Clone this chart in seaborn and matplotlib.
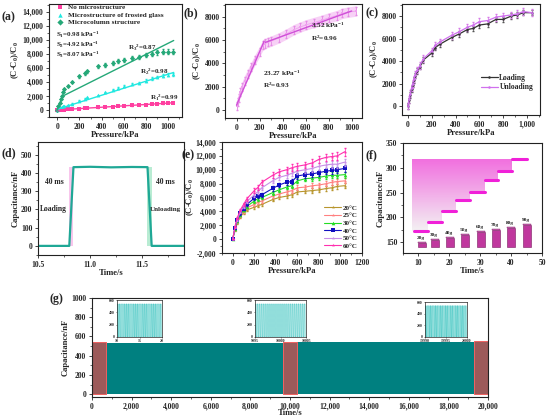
import numpy as np
import matplotlib
matplotlib.use("Agg")
import matplotlib.pyplot as plt
from matplotlib.ticker import FuncFormatter, AutoMinorLocator
import seaborn as sns

# (a) three surface structures
a_x = [0, 10, 20, 30, 40, 50, 60, 100, 130, 200, 250, 270, 370, 430, 500, 550, 600, 670, 740, 800, 850, 900, 950, 1000, 1040]
a_none = [0, 10, 20, 30, 40, 50, 60, 100, 130, 200, 240, 270, 360, 420, 490, 540, 590, 650, 720, 780, 830, 880, 930, 980, 1010]
a_frosted = [0, 150, 250, 350, 450, 500, 550, 700, 900, 1300, 1600, 1800, 2100, 2500, 2900, 3100, 3400, 3700, 3900, 4200, 4500, 4700, 4900, 5000, 5100]
a_column = [0, 500, 1000, 1600, 2000, 2600, 3000, 3400, 4000, 4800, 5200, 5500, 6200, 6400, 6700, 7000, 7100, 7400, 7600, 7800, 8000, 8200, 8300, 8300, 8300]
a_labels = ["No microstructure", "Microstructure of frosted glass", "Microcolumn structure"]
a_fit_x = [0, 1050]
a_fit_none = [0, 1030]
a_fit_frosted = [100, 5350]
a_fit_col_low_x = [0, 45]
a_fit_col_low = [0, 1950]
a_fit_col_x = [45, 1050]
a_fit_col = [1950, 9900]
a_slopes = ["S$_1$=0.98 kPa$^{-1}$", "S$_2$=4.92 kPa$^{-1}$", "S$_3$=8.07 kPa$^{-1}$"]
a_r2 = ["R$_1$$^2$=0.99", "R$_2$$^2$=0.98", "R$_3$$^2$=0.87"]

# (b) two-stage fit
b_x = [0, 10, 20, 30, 50, 70, 100, 130, 160, 200, 230, 250, 270, 300, 370, 430, 500, 550, 600, 670, 740, 800, 870, 920, 970, 1040]
b_y = [300, 700, 1000, 1500, 2000, 2500, 3100, 3700, 4300, 5000, 5600, 5700, 5800, 5900, 6200, 6500, 6900, 7100, 7300, 7500, 7700, 7900, 8100, 8300, 8400, 8500]
b_fit1_x = [0, 240]
b_fit1_y = [400, 5900]
b_fit2_x = [250, 1000]
b_fit2_y = [5800, 8500]

# (c) loading / unloading
c_x = [0, 10, 20, 30, 40, 50, 60, 80, 100, 130, 200, 230, 270, 370, 430, 500, 550, 600, 670, 740, 800, 870, 920, 970, 1040]
c_load = [0, 500, 1000, 1500, 1900, 2300, 2700, 3100, 3500, 4100, 4700, 5200, 5500, 6100, 6400, 6800, 6900, 7200, 7300, 7700, 7700, 8000, 8100, 8300, 8300]
c_unload = [0, 600, 1100, 1600, 2000, 2400, 2800, 3200, 3600, 4200, 4900, 5400, 5700, 6300, 6600, 7000, 7200, 7500, 7600, 7900, 8000, 8100, 8200, 8400, 8300]

# (d) response time
d_t = [10.5, 10.80, 10.84, 11.0, 11.2, 11.4, 11.55, 11.59, 11.9]
d_c = [0, 0, 432, 434, 431, 433, 432, 0, 0]
d_rise = [10.80, 10.84]
d_fall = [11.55, 11.59]

# (e) temperature
e_x = [0, 20, 40, 70, 100, 130, 200, 230, 270, 370, 430, 500, 550, 600, 670, 740, 800, 870, 920, 970, 1040]
e_temps = ["20°C", "25°C", "30°C", "40°C", "50°C", "60°C"]
e_vals = [
    [0, 1300, 2300, 3200, 3800, 4200, 4600, 4800, 5000, 5700, 6000, 6200, 6400, 6800, 6900, 7000, 7100, 7300, 7400, 7600, 7700],
    [0, 1400, 2500, 3400, 4000, 4500, 5000, 5300, 5500, 6200, 6500, 6800, 7000, 7400, 7500, 7700, 7800, 8000, 8200, 8300, 8400],
    [0, 1500, 2600, 3500, 4200, 4700, 5500, 5800, 6000, 6700, 7100, 7500, 7700, 8400, 8700, 8800, 8900, 9100, 9200, 9200, 9300],
    [0, 1600, 2700, 3700, 4400, 5000, 5900, 6200, 6400, 7300, 7800, 8200, 8300, 9100, 9300, 9400, 9600, 9800, 9900, 10000, 10200],
    [0, 1700, 2800, 3900, 4700, 5400, 6400, 6800, 7400, 8400, 8900, 9200, 9500, 9800, 10000, 10200, 10500, 10700, 10800, 10800, 11100],
    [0, 1800, 3000, 4200, 5000, 5800, 7000, 7400, 8200, 9200, 9700, 10000, 10300, 10500, 10700, 11000, 11500, 11800, 11900, 12000, 12600],
]
e_colors = ["#B8962E", "#FF8080", "#22DD22", "#1010C0", "#C890E8", "#FF30B0"]
e_markers = ["*", "*", "^", "s", "*", "*"]

# (f) weight steps
f_start = [8.4, 13.2, 17.7, 22.2, 26.8, 31.4, 35.9, 40.4]
f_end = [13.2, 17.7, 22.2, 26.8, 31.4, 35.9, 40.4, 45.1]
f_level = [173, 191, 213, 234, 251, 275, 294, 318]
f_bar_x = [11.1, 15.5, 20.2, 25.2, 30.2, 35.2, 40.1, 45.1]
f_bar_top = [148, 154, 159, 165, 170, 175, 179, 184]
f_weights = ["20g", "30g", "40g", "50g", "60g", "70g", "80g", "90g"]

# (g) 20000 s cycling
g_start = [0, 700, 9650, 10350, 19300]
g_end = [700, 9650, 10350, 19300, 20000]
g_top = [540, 535, 545, 540, 555]
g_zoomed = [True, False, True, False, True]
g_inset_range = [(10, 20), (9995, 10005), (19990, 20000)]
g_inset_ticks = [[10, 15, 20], [9995, 10000, 10005], [19990, 19995, 20000]]
g_cycle_t = [0.0, 0.03, 0.2, 0.23, 0.4]
g_cycle_v = [0, 535, 535, 0, 0]

sns.set_theme(style="ticks")
plt.rcParams["font.family"] = ["Liberation Serif", "DejaVu Serif"]
plt.rcParams["font.weight"] = "bold"
plt.rcParams["axes.labelweight"] = "bold"
plt.rcParams["mathtext.fontset"] = "custom"
plt.rcParams["mathtext.rm"] = "Liberation Serif:bold"
plt.rcParams["mathtext.it"] = "Liberation Serif:bold"
plt.rcParams["mathtext.bf"] = "Liberation Serif:bold"
plt.rcParams["mathtext.default"] = "rm"

TICK = 5.5
LAB = 6.2
W, H = 550, 420

fig = plt.figure(figsize=(5.5, 4.2), dpi=100)


def px_axes(left, top, w, h):
    return fig.add_axes([left / W, 1 - (top + h) / H, w / W, h / H])


def style(ax, xlabel, ylabel):
    for s in ax.spines.values():
        s.set_linewidth(0.8)
        s.set_color("#222222")
    ax.tick_params(labelsize=TICK, width=0.6, length=2.5, pad=1.5, direction="out")
    ax.tick_params(which="minor", width=0.5, length=1.5)
    ax.xaxis.set_minor_locator(AutoMinorLocator(2))
    ax.yaxis.set_minor_locator(AutoMinorLocator(2))
    ax.set_xlabel(xlabel, fontsize=LAB, labelpad=0)
    ax.set_ylabel(ylabel, fontsize=LAB, labelpad=1)
    for lab in ax.get_xticklabels() + ax.get_yticklabels():
        lab.set_fontweight("bold")
    ax.grid(False)


comma = FuncFormatter(lambda v, p: f"{v:,.0f}")
plain = FuncFormatter(lambda v, p: f"{v:.0f}")
ylab_c = "(C-C$_0$)/C$_0$"

# ---------- (a)
ax = px_axes(49, 4, 133, 113)
for yv, col, mk, lab in [(a_none, "#FF3FA0", "s", a_labels[0]),
                         (a_frosted, "#20E8E0", "^", a_labels[1]),
                         (a_column, "#25A878", "D", a_labels[2])]:
    ax.errorbar(a_x, yv, yerr=[v * 0.04 for v in yv], fmt="none", ecolor=col, elinewidth=0.6, capsize=1)
    sns.scatterplot(x=a_x, y=yv, ax=ax, color=col, marker=mk, s=7, linewidth=0, label=lab)
sns.lineplot(x=a_fit_x, y=a_fit_none, ax=ax, color="#FF3FA0", linewidth=1)
sns.lineplot(x=a_fit_x, y=a_fit_frosted, ax=ax, color="#20E8E0", linewidth=1)
sns.lineplot(x=a_fit_col_low_x, y=a_fit_col_low, ax=ax, color="#25A878", linewidth=1)
sns.lineplot(x=a_fit_col_x, y=a_fit_col, ax=ax, color="#25A878", linewidth=1)
ax.legend(loc="upper left", fontsize=5.2, frameon=False, handletextpad=0.1, borderpad=0.1,
          labelspacing=0.15, borderaxespad=0.1, markerscale=1.2, bbox_to_anchor=(0.02, 1.01))
for s, yy in zip(a_slopes, [10700, 9300, 7800]):
    ax.text(-10, yy, s, fontsize=5, va="center")
ax.text(640, 8900, a_r2[2], fontsize=5, va="center")
ax.text(750, 5450, a_r2[1], fontsize=5, va="center")
ax.text(840, 1700, a_r2[0], fontsize=5, va="center")
ax.set_xlim(-75, 1125)
ax.set_ylim(-1000, 15100)
ax.set_xticks([0, 200, 400, 600, 800, 1000])
ax.set_yticks(range(0, 14001, 2000))
ax.yaxis.set_major_formatter(comma)
style(ax, "Pressure/kPa", ylab_c)
fig.text(2 / W, 1 - 17 / H, "(a)", fontsize=8.5, fontweight="bold", va="center")

# ---------- (b)
ax = px_axes(225, 4, 137, 114)
ax.fill_between(b_x, [v - 450 for v in b_y], [v + 450 for v in b_y], color="#F6C6F4", alpha=0.8, linewidth=0)
ax.errorbar(b_x, b_y, yerr=350, fmt="none", ecolor="#E58AE5", elinewidth=0.6, capsize=1)
sns.lineplot(x=b_x, y=b_y, ax=ax, color="#EFA0EF", linewidth=0.6, marker="s", markersize=2, markeredgewidth=0)
sns.lineplot(x=b_fit1_x, y=b_fit1_y, ax=ax, color="#D050D8", linewidth=1)
sns.lineplot(x=b_fit2_x, y=b_fit2_y, ax=ax, color="#D050D8", linewidth=1)
ax.text(650, 6700, "3.52 kPa$^{-1}$\nR$^2$=0.96", fontsize=5.2, va="center", linespacing=1.4)
ax.text(230, 2600, "23.27 kPa$^{-1}$\nR$^2$=0.93", fontsize=5.2, va="center", linespacing=1.4)
ax.set_xlim(-100, 1090)
ax.set_ylim(-700, 9100)
ax.set_xticks([0, 200, 400, 600, 800, 1000])
ax.set_yticks(range(0, 8001, 2000))
ax.yaxis.set_major_formatter(plain)
style(ax, "Pressure/kPa", ylab_c)
fig.text(183 / W, 1 - 13 / H, "(b)", fontsize=8.5, fontweight="bold", va="center")

# ---------- (c)
ax = px_axes(402, 4, 138, 111)
ax.errorbar(c_x, c_load, yerr=250, fmt="none", ecolor="#555555", elinewidth=0.5, capsize=1)
ax.errorbar(c_x, c_unload, yerr=300, fmt="none", ecolor="#D77AE8", elinewidth=0.5, capsize=1)
sns.lineplot(x=c_x, y=c_load, ax=ax, color="#333333", linewidth=0.9, marker="o", markersize=1.8,
             markeredgewidth=0, label="Loading")
sns.lineplot(x=c_x, y=c_unload, ax=ax, color="#D070EE", linewidth=0.9, marker="o", markersize=1.8,
             markeredgewidth=0, label="Unloading")
ax.legend(loc="lower right", fontsize=5.5, frameon=False, handlelength=2.2, handletextpad=0.2,
          labelspacing=0.25, bbox_to_anchor=(1.0, 0.15))
ax.set_xlim(-50, 1110)
ax.set_ylim(-800, 9070)
ax.set_xticks([0, 200, 400, 600, 800, 1000])
ax.set_yticks(range(0, 8001, 2000))
ax.xaxis.set_major_formatter(comma)
ax.yaxis.set_major_formatter(plain)
style(ax, "Pressure/kPa", ylab_c)
fig.text(366 / W, 1 - 13 / H, "(c)", fontsize=8.5, fontweight="bold", va="center")

# ---------- (d)
ax = px_axes(38, 142, 146, 113)
ax.axvspan(d_rise[0], d_rise[1], ymin=0.08, ymax=0.78, color="#F7B8E8", alpha=0.8, linewidth=0)
ax.axvspan(d_fall[0], d_fall[1], ymin=0.08, ymax=0.78, color="#A8E8C8", alpha=0.8, linewidth=0)
sns.lineplot(x=d_t, y=d_c, ax=ax, color="#1FA896", linewidth=1.6)
ax.text(10.66, 350, "40 ms", fontsize=5.5, ha="center", va="center")
ax.text(11.72, 350, "40 ms", fontsize=5.5, ha="center", va="center")
ax.text(10.52, 200, "Loading", fontsize=5.5, ha="left", va="center")
ax.text(11.575, 200, "Unloading", fontsize=5, ha="left", va="center")
ax.set_xlim(10.5, 11.9)
ax.set_ylim(-50, 570)
ax.set_xticks([10.5, 11.0, 11.5])
ax.set_yticks(range(0, 501, 100))
ax.xaxis.set_major_formatter(FuncFormatter(lambda v, p: f"{v:.1f}"))
style(ax, "Time/s", "Capacitance/nF")
fig.text(2 / W, 1 - 153 / H, "(d)", fontsize=8.5, fontweight="bold", va="center")

# ---------- (e)
ax = px_axes(222, 142, 140, 111)
for yv, lab, col, mk in zip(e_vals, e_temps, e_colors, e_markers):
    ax.errorbar(e_x, yv, yerr=[v * 0.045 for v in yv], fmt="none", ecolor=col, elinewidth=0.5, capsize=1)
    sns.lineplot(x=e_x, y=yv, ax=ax, color=col, linewidth=0.8, marker=mk, markersize=2.6,
                 markeredgewidth=0, label=lab)
ax.legend(loc="lower right", fontsize=5, frameon=False, handlelength=2.4, handletextpad=0.3,
          labelspacing=0.25, borderaxespad=0.2)
ax.set_xlim(-100, 1200)
ax.set_ylim(-2000, 14000)
ax.set_xticks(range(0, 1201, 200))
ax.set_yticks(range(-2000, 14001, 2000))
ax.yaxis.set_major_formatter(comma)
style(ax, "Pressure/kPa", ylab_c)
ax.yaxis.labelpad = 0
fig.text(182 / W, 1 - 155 / H, "(e)", fontsize=8.5, fontweight="bold", va="center")

# ---------- (f)
ax = px_axes(403, 143, 139, 110)
step_x = [7.8]
step_y = [f_level[0]]
for s, e, lv in zip(f_start, f_end, f_level):
    step_x += [s, e]
    step_y += [lv, lv]
step_x = np.array(step_x)
step_y = np.array(step_y)
mask = step_x <= f_start[-1]
poly = ax.fill_between(step_x[mask], step_y[mask], f_level[-1], color="none", linewidth=0)
grad = np.linspace(0.0, 1.0, 100).reshape(-1, 1)
img = ax.imshow(grad, extent=[7.8, f_start[-1], f_level[0], f_level[-1]], origin="lower",
                cmap=sns.light_palette("#F060DC", as_cmap=True), aspect="auto", alpha=0.9, zorder=1)
img.set_clip_path(poly.get_paths()[0], transform=ax.transData)
for s, e, lv in zip(f_start, f_end, f_level):
    sns.lineplot(x=[s, e], y=[lv, lv], ax=ax, color="#F020D8", linewidth=2.2, zorder=3)
ax.bar(f_bar_x, [t - 141 for t in f_bar_top], bottom=141, width=2.6, color="#C0389E",
       edgecolor="#7A1A60", linewidth=0.4, zorder=4)
ax.bar(f_bar_x, [1.8] * len(f_bar_x), bottom=f_bar_top, width=2.6, color="#E07ACB",
       edgecolor="#7A1A60", linewidth=0.3, zorder=4)
for bx, bt, lab in zip(f_bar_x, f_bar_top, f_weights):
    ax.text(bx - 0.4, bt + 6, lab, fontsize=3.8, ha="center", va="bottom", zorder=5)
ax.set_xlim(5, 50)
ax.set_ylim(128, 350)
ax.set_xticks([10, 20, 30, 40, 50])
ax.set_yticks([150, 200, 250, 300, 350])
style(ax, "Time/s", "Capacitance/nF")
fig.text(366 / W, 1 - 155 / H, "(f)", fontsize=8.5, fontweight="bold", va="center")

# ---------- (g)
ax = px_axes(92, 298, 396, 99)
for s, e, top, z in zip(g_start, g_end, g_top, g_zoomed):
    ax.bar(s, top, width=e - s, align="edge", color="#9C5A5A" if z else "#008080",
           edgecolor="#F06060" if z else "#008080", linewidth=0.7 if z else 0, zorder=2 if z else 1)
ax.set_xlim(0, 20000)
ax.set_ylim(-30, 1000)
ax.set_xticks(range(0, 20001, 2000))
ax.set_yticks(range(0, 1001, 200))
ax.xaxis.set_major_formatter(comma)
style(ax, "Time/s", "Capacitance/nF")
ax.xaxis.labelpad = -1
fig.text(50 / W, 1 - 299 / H, "(g)", fontsize=8.5, fontweight="bold", va="center")

inset_boxes = [(117, 300, 45, 37), (255, 300, 51, 37), (425, 302, 42, 35)]
for (l, t, w, h), (r0, r1), ticks in zip(inset_boxes, g_inset_range, g_inset_ticks):
    ia = px_axes(l, t, w, h)
    n_cycles = int(round((r1 - r0) / g_cycle_t[-1]))
    tt = np.concatenate([r0 + k * g_cycle_t[-1] + np.array(g_cycle_t[:-1]) for k in range(n_cycles)])
    vv = np.tile(g_cycle_v[:-1], n_cycles)
    sns.lineplot(x=tt, y=vv, ax=ia, color="#3CC4C0", linewidth=0.4, sort=False, estimator=None)
    ia.set_xlim(r0, r1)
    ia.set_ylim(0, 600)
    ia.set_xticks(ticks)
    ia.set_yticks([0, 200, 400, 600])
    ia.xaxis.set_major_formatter(plain)
    ia.yaxis.set_major_formatter(plain)
    ia.tick_params(labelsize=2.8, length=1, width=0.4, pad=0.5)
    for s in ia.spines.values():
        s.set_linewidth(0.5)
    ia.set_xlabel("")
    ia.set_ylabel("")

fig.savefig("out.png", dpi=100)
